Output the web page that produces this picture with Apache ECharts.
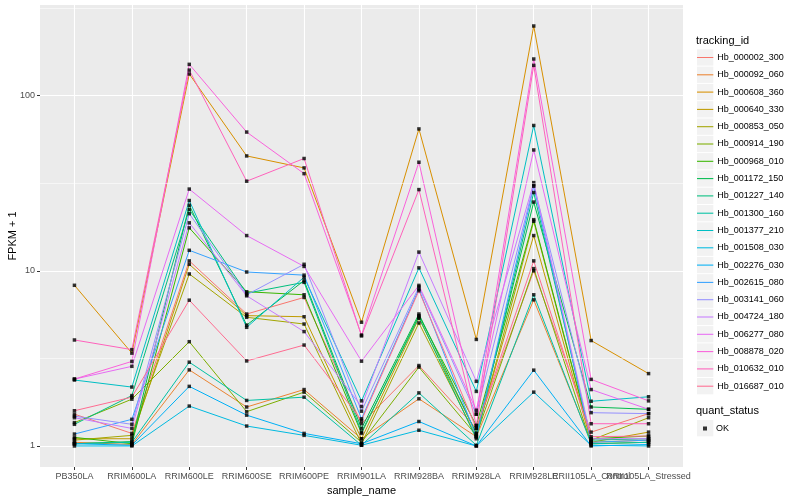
<!DOCTYPE html>
<html><head><meta charset="utf-8">
<script src="https://cdn.jsdelivr.net/npm/echarts@6/dist/echarts.min.js"></script>
<style>html,body{margin:0;padding:0;background:#fff}#c{width:800px;height:500px}</style>
</head><body><div id="c"></div>
<script>
const categories = ['PB350LA','RRIM600LA','RRIM600LE','RRIM600SE','RRIM600PE','RRIM901LA','RRIM928BA','RRIM928LA','RRIM928LE','RRII105LA_Control','RRII105LA_Stressed'];
const trackingIds = ['Hb_000002_300','Hb_000092_060','Hb_000608_360','Hb_000640_330','Hb_000853_050','Hb_000914_190','Hb_000968_010','Hb_001172_150','Hb_001227_140','Hb_001300_160','Hb_001377_210','Hb_001508_030','Hb_002276_030','Hb_002615_080','Hb_003141_060','Hb_004724_180','Hb_006277_080','Hb_008878_020','Hb_010632_010','Hb_016687_010'];

// FPKM + 1 values, one array per tracking_id, in category order
const hb_000002_300 = [1.52, 1.18, 11.4, 5.67, 7.05, 1.34, 2.88, 1.26, 10.0, 1.20, 1.53];
const hb_000092_060 = [1.05, 1.02, 2.72, 1.67, 2.10, 1.10, 1.86, 1.13, 6.83, 1.05, 1.08];
const hb_000608_360 = [8.27, 3.39, 133, 45.3, 38.7, 5.09, 64.6, 4.06, 250, 4.00, 2.59];
const hb_000640_330 = [1.10, 1.10, 10.9, 5.55, 5.47, 1.10, 5.36, 1.18, 15.9, 1.05, 1.20];
const hb_000853_050 = [1.08, 1.15, 9.6, 5.43, 4.97, 1.03, 5.04, 1.13, 19.2, 1.08, 1.45];
const hb_000914_190 = [1.36, 1.85, 3.94, 1.57, 2.03, 1.05, 2.82, 1.15, 10.3, 1.03, 1.05];
const hb_000968_010 = [1.12, 1.03, 17.6, 7.6, 7.3, 1.18, 5.55, 1.31, 19.6, 1.10, 1.14];
const hb_001172_150 = [1.03, 1.06, 23.7, 4.9, 8.8, 1.26, 5.67, 1.18, 24.7, 1.67, 1.62];
const hb_001227_140 = [1.33, 1.94, 22.4, 7.45, 8.6, 1.20, 5.45, 1.10, 28.0, 1.08, 1.10];
const hb_001300_160 = [1.03, 1.05, 3.01, 1.82, 1.90, 1.01, 2.01, 1.01, 7.3, 1.03, 1.05];
const hb_001377_210 = [2.38, 2.17, 25.2, 4.76, 9.2, 1.81, 10.4, 2.05, 67.6, 1.80, 1.91];
const hb_001508_030 = [1.00, 1.00, 1.69, 1.30, 1.15, 1.01, 1.23, 1.00, 2.03, 1.01, 1.00];
const hb_002276_030 = [1.03, 1.01, 2.19, 1.50, 1.18, 1.03, 1.38, 1.00, 2.71, 1.00, 1.02];
const hb_002615_080 = [1.17, 1.42, 13.1, 9.85, 9.45, 1.43, 7.87, 1.13, 30.4, 1.05, 1.08];
const hb_003141_060 = [1.48, 1.33, 21.2, 7.3, 10.9, 1.58, 8.1, 1.52, 31.0, 1.55, 1.53];
const hb_004724_180 = [1.45, 1.26, 18.8, 7.2, 4.5, 1.68, 12.8, 2.34, 31.9, 1.10, 1.10];
const hb_006277_080 = [2.41, 2.85, 29.3, 15.9, 10.6, 3.05, 8.26, 1.60, 49.0, 2.10, 1.62];
const hb_008878_020 = [2.41, 3.04, 151, 62.0, 35.9, 4.30, 41.7, 1.52, 162, 2.40, 1.81];
const hb_010632_010 = [4.03, 3.55, 140, 32.5, 43.8, 4.25, 29.1, 1.31, 149, 1.34, 1.34];
const hb_016687_010 = [1.59, 1.90, 6.8, 3.06, 3.77, 1.40, 7.7, 1.26, 11.4, 1.13, 1.14];

const seriesValues = [hb_000002_300, hb_000092_060, hb_000608_360, hb_000640_330, hb_000853_050, hb_000914_190, hb_000968_010, hb_001172_150, hb_001227_140, hb_001300_160, hb_001377_210, hb_001508_030, hb_002276_030, hb_002615_080, hb_003141_060, hb_004724_180, hb_006277_080, hb_008878_020, hb_010632_010, hb_016687_010];

const yTickValues = [1, 10, 100];
const yMinorValues = [3.1623, 31.623, 316.23];
const yLimits = [0.7587, 329.5];
const statusLabels = ['OK'];

const palette = ['#F8766D','#EA8331','#D89000','#C09B00','#A3A500','#7CAE00','#39B600','#00BB4E','#00BF7D','#00C1A3','#00BFC4','#00BAE0','#00B0F6','#35A2FF','#9590FF','#C77CFF','#E76BF3','#FA62DB','#FF62BC','#FF6C91'];

const FONT = '"Liberation Sans", Arial, Helvetica, sans-serif';
const chart = echarts.init(document.getElementById('c'), null, {renderer: 'canvas'});
const catIdx = categories.map((c, i) => i);
const xLimits = [-0.6, categories.length - 1 + 0.6];
// a blank label at the axis end keeps ECharts from dropping the last two overlapping category names
const labelIdx = catIdx.concat([xLimits[1]]);

const lineSeries = trackingIds.map((id, i) => ({
  name: id, type: 'line', xAxisIndex: 0, yAxisIndex: 0,
  data: seriesValues[i].map((v, j) => [j, v]),
  symbol: 'none', showSymbol: false,
  lineStyle: {color: palette[i], width: 1},
  itemStyle: {color: palette[i]},
  emphasis: {disabled: true}, silent: true, z: 2
}));
const pts = [];
seriesValues.forEach(arr => arr.forEach((v, j) => pts.push([j, v])));
const pointSeries = {
  name: statusLabels[0], type: 'scatter', xAxisIndex: 0, yAxisIndex: 0,
  data: pts, symbol: 'rect', symbolSize: 3.5,
  itemStyle: {color: '#000'}, silent: true, z: 3
};
const minorGridSeries = {
  name: '_minor', type: 'line', xAxisIndex: 0, yAxisIndex: 0, data: [], z: 1, silent: true,
  markLine: {
    silent: true, symbol: ['none', 'none'], label: {show: false}, animation: false,
    lineStyle: {color: '#FFFFFF', width: 0.55, type: 'solid'},
    emphasis: {disabled: true},
    data: yMinorValues.map(v => ({yAxis: v}))
  }
};

const keyBoxes = [];
for (let i = 0; i < trackingIds.length; i++) {
  keyBoxes.push({type: 'rect', left: 697, top: 49.3 + i * 17.3, z: 0, silent: true,
    shape: {width: 16.3, height: 16.3}, style: {fill: '#F2F2F2'}});
}
keyBoxes.push({type: 'rect', left: 697, top: 420, z: 0, silent: true,
  shape: {width: 16.3, height: 16.3}, style: {fill: '#F2F2F2'}});

chart.setOption({
  animation: false,
  backgroundColor: '#FFFFFF',
  textStyle: {fontFamily: FONT},
  grid: {left: 40, right: 117, top: 5, bottom: 33, show: true, backgroundColor: '#EBEBEB', borderWidth: 0, containLabel: false, outerBoundsMode: 'none'},
  xAxis: {
    type: 'value', min: xLimits[0], max: xLimits[1],
    axisLine: {show: false, onZero: false},
    axisTick: {show: true, length: 3, customValues: catIdx, lineStyle: {color: '#333333', width: 1}},
    axisLabel: {customValues: labelIdx, formatter: v => (Number.isInteger(v) ? categories[v] : ' '), color: '#4D4D4D', fontSize: 9, margin: 5, fontFamily: FONT, hideOverlap: false},
    splitLine: {show: true, lineStyle: {color: '#FFFFFF', width: 1.1}},
    name: 'sample_name', nameLocation: 'middle', nameGap: 16,
    nameTextStyle: {color: '#000', fontSize: 11, fontFamily: FONT}
  },
  yAxis: {
    type: 'log', logBase: 10, min: yLimits[0], max: yLimits[1],
    axisLine: {show: false, onZero: false},
    axisTick: {show: true, length: 3, customValues: yTickValues, lineStyle: {color: '#333333', width: 1}},
    axisLabel: {customValues: yTickValues, formatter: v => String(Math.round(v)), color: '#4D4D4D', fontSize: 9, margin: 5, fontFamily: FONT},
    splitLine: {show: true, lineStyle: {color: '#FFFFFF', width: 1.1}},
    name: 'FPKM + 1', nameLocation: 'middle', nameGap: 22, nameRotate: 90, nameMoveOverlap: false,
    nameTextStyle: {color: '#000', fontSize: 11, fontFamily: FONT}
  },
  legend: [{
    data: trackingIds, orient: 'vertical', left: 697, top: 49, padding: 0,
    itemWidth: 16.3, itemHeight: 17, itemGap: 0.3, selectedMode: false,
    icon: 'path://M0,0H17V1.1H0Z', symbolKeepAspect: true,
    textStyle: {color: '#000', fontSize: 9, lineHeight: 17, fontFamily: FONT, padding: [0, 0, 0, -1]}
  }, {
    data: statusLabels, orient: 'vertical', left: 703, top: 420, padding: 0,
    itemWidth: 4, itemHeight: 4, selectedMode: false, icon: 'rect',
    itemStyle: {color: '#000'},
    textStyle: {color: '#000', fontSize: 9, lineHeight: 17, fontFamily: FONT, padding: [0, 0, 0, 4]}
  }],
  graphic: keyBoxes.concat([
    {type: 'text', left: 696, top: 35, silent: true, style: {text: 'tracking_id', fill: '#000', font: '11px ' + FONT}},
    {type: 'text', left: 696, top: 405, silent: true, style: {text: 'quant_status', fill: '#000', font: '11px ' + FONT}}
  ]),
  series: [minorGridSeries].concat(lineSeries, [pointSeries])
});
</script></body></html>
